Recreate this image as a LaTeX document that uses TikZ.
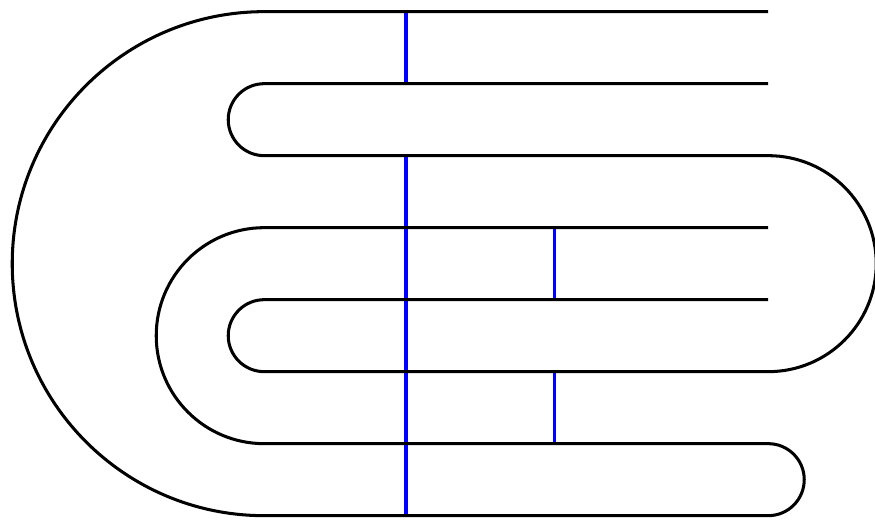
\documentclass[tikz,border=0pt]{standalone}
\usepackage{xcolor}
\usepackage{tikz}

\begin{document}
\begin{tikzpicture}[
        x=1cm, y=1cm,
        strand/.style={draw=black, line width=1.2pt},
        bar/.style={draw=blue, line width=1.4pt}
    ]
        \useasboundingbox (-3.67,-0.06) rectangle (8.483,7.162);

        % end points of the blue bars
        \coordinate (b1top) at (1.97,7);
        \coordinate (b1bot) at (1.97,6);
        \coordinate (b2top) at (1.97,5);
        \coordinate (b2bot) at (1.97,0);
        \coordinate (b3top) at (4.03,4);
        \coordinate (b3bot) at (4.03,3);
        \coordinate (b4top) at (4.03,2);
        \coordinate (b4bot) at (4.03,1);

        \draw[bar] (b1top) -- (b1bot);
        \draw[bar] (b2top) -- (b2bot);
        \draw[bar] (b3top) -- (b3bot);
        \draw[bar] (b4top) -- (b4bot);

        % outer strand
        \draw[strand] (7,7) -- (0,7)
            arc[start angle=90, end angle=270, radius=3.5] -- (7,0)
            arc[start angle=-90, end angle=90, radius=0.5] -- (0,1)
            arc[start angle=270, end angle=90, radius=1.5] -- (7,4);
        % inner strand
        \draw[strand] (7,6) -- (0,6)
            arc[start angle=90, end angle=270, radius=0.5] -- (7,5)
            arc[start angle=90, end angle=-90, radius=1.5] -- (0,2)
            arc[start angle=270, end angle=90, radius=0.5] -- (7,3);
    \end{tikzpicture}
\end{document}
